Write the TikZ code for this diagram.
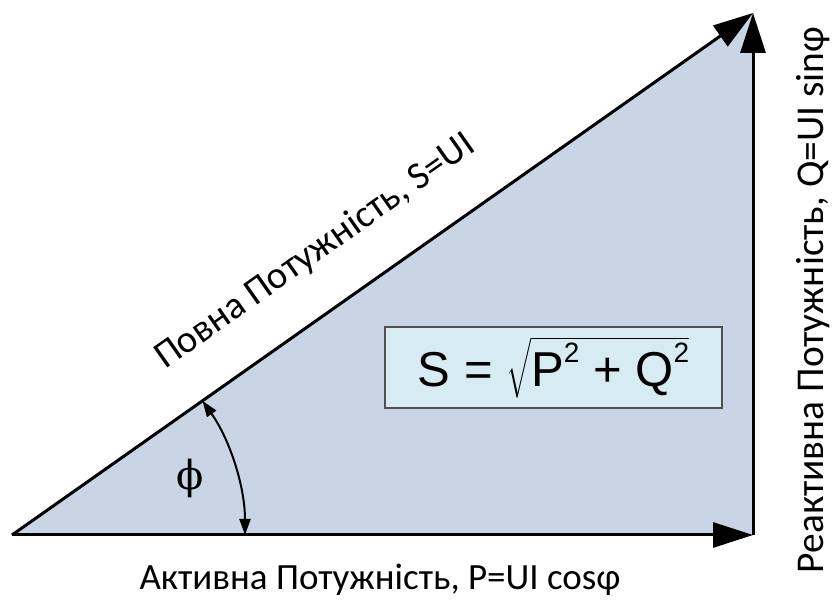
\RequirePackage{fix-cm}
\documentclass[tikz,border=0pt]{standalone}
\usepackage{amsmath}
\usepackage{fontspec}
\setmainfont{Carlito}
\setsansfont{Liberation Sans}
\newfontfamily\phifont{DejaVu Serif}
\usetikzlibrary{arrows.meta, positioning, calc}
\definecolor{trifill}{HTML}{C9D4E4}
\definecolor{boxfill}{HTML}{D7EBF2}
\definecolor{boxline}{HTML}{505050}

\begin{document}
\begin{tikzpicture}[x=1pt, y=1pt,
    vec/.style={line width=3pt, -{Triangle[length=40pt, width=25pt]}},
    powtext/.style={font=\fontsize{#1}{#1}\selectfont, anchor=base, inner sep=0pt},
]
\useasboundingbox (0,0) rectangle (832,601);

% corners of the power triangle
\coordinate (O) at (12,66);
\coordinate (C) at (753,66);
\coordinate (T) at (753,588);

\fill[trifill] (O) -- (C) -- (T) -- cycle;

% power vectors
\draw[vec] (O) -- (C);
\draw[vec] (C) -- (T);
\draw[vec] (O) -- (T);

% phase angle
\draw[line width=2pt, {Triangle[length=16pt, width=11pt]}-{Triangle[length=16pt, width=11pt]}]
    ($(O)+(233,0)$) arc[start angle=0, end angle=35.16, radius=233];
\node[font=\phifont\fontsize{40}{44}\selectfont] (phi) at (190,123) {ϕ};

% formula
\node[draw=boxline, line width=2pt, fill=boxfill, minimum width=337pt, minimum height=81pt,
      font=\sffamily\fontsize{49}{56}\selectfont] (formula) at (553.5,233.5)
    {S = $\sqrt{\mbox{P\raisebox{0.48em}{\fontsize{28}{30}\selectfont 2} + Q\raisebox{0.48em}{\fontsize{28}{30}\selectfont 2}}}$};

% labels
\node[powtext=38.5, rotate=35.16] (Slabel) at (321,341) {Повна Потужність, S=UI};
\node[powtext=37] (Plabel) at (380,11) {Активна Потужність, P=UI cosφ};
\node[powtext=39.4, rotate=90] (Qlabel) at (823,301) {Реактивна Потужність, Q=UI sinφ};
\end{tikzpicture}
\end{document}
